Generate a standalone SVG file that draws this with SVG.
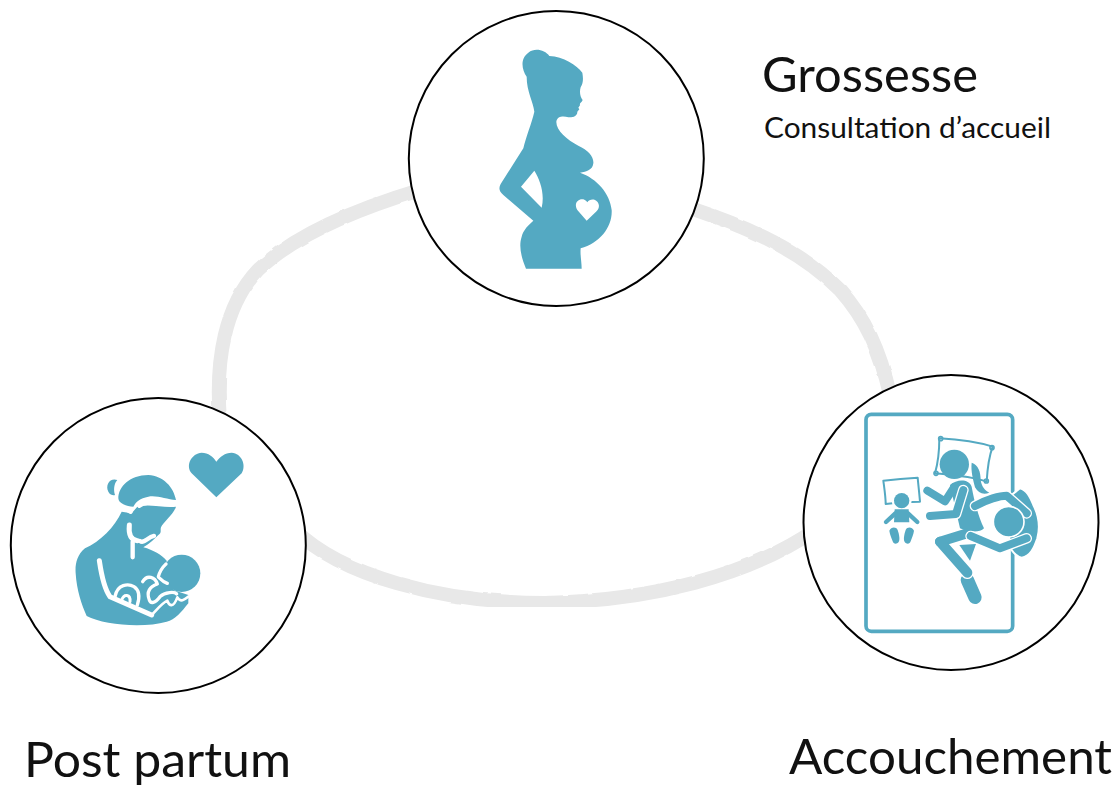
<svg xmlns="http://www.w3.org/2000/svg" width="1118" height="785" viewBox="0 0 1118 785">
<style>
text{font-family:"Lato","Liberation Sans",sans-serif;fill:#111}
.big{font-size:48px}
.small{font-size:28px}
.node{fill:#fff;stroke:#000;stroke-width:2}
.ic{fill:#54a9c2}
.ln{fill:none;stroke:#54a9c2;stroke-linecap:round;stroke-linejoin:round}
.wh{fill:none;stroke:#fff;stroke-linecap:round;stroke-linejoin:round}
.ring{fill:none;stroke:#e8e8e8;stroke-width:14;stroke-linecap:round;stroke-linejoin:round;filter:url(#rough)}
</style>
<defs>
<filter id="rough" x="-5%" y="-5%" width="110%" height="110%">
<feTurbulence type="fractalNoise" baseFrequency="0.06" numOctaves="2" seed="4"/>
<feDisplacementMap in="SourceGraphic" scale="2.5" xChannelSelector="R" yChannelSelector="G"/>
</filter>
</defs>
<rect width="1118" height="785" fill="#fff"/>
<g id="connectors">
<path class="ring" d="M420,190 C370,205 300,230 258,270 C225,305 215,360 220,420"/>
<path class="ring" d="M690,208 C750,228 800,250 840,290 C865,318 880,350 890,395"/>
<path class="ring" d="M295,530 C340,575 440,603 545,603 C650,601 750,575 815,530"/>
</g>
<g id="grossesse">
<circle class="node" cx="556.3" cy="158.5" r="147.5"/>
<g transform="translate(470 30) scale(.33333)">
<path class="ic" fill-rule="evenodd" d="M168,716 C155,685 145,650 155,620 C160,600 175,585 190,572 L100,495 C88,485 85,475 92,462 L160,355 C168,320 185,280 193,245 C190,215 170,185 170,140 C155,120 150,85 175,68 C195,52 225,60 238,78 C280,80 320,105 337,128 C340,145 340,160 332,172 C328,185 330,200 338,210 C335,218 328,218 330,226 L325,233 L328,238 L322,245 C322,258 310,263 295,262 C280,258 262,258 259,275 C258,300 290,330 325,347 C355,360 372,380 370,400 C368,420 350,425 330,428 C380,445 420,490 425,540 C428,590 390,640 332,655 C330,675 335,695 335,716 Z M193,422 L153,470 L215,533 C225,490 210,450 193,422 Z M350,572 L322,540 C310,520 325,505 340,508 C347,510 350,515 352,517 C358,508 372,505 382,515 C392,528 385,540 375,548 Z"/>
</g>
</g>
<g id="accouchement">
<circle class="node" cx="951" cy="522.5" r="147.5"/>
<g transform="translate(850 400) scale(.33333)">
<rect x="48" y="43" width="440" height="651" rx="16" fill="none" stroke="#54a9c2" stroke-width="11"/>
<path class="ln" stroke-width="6" d="M268,115 C320,118 380,125 428,140 C415,175 412,210 410,245 C360,228 310,225 255,220 C265,185 268,150 268,115 Z"/>
<circle class="ln" stroke-width="5" cx="272" cy="116" r="6"/><circle class="ln" stroke-width="5" cx="426" cy="143" r="6"/><circle class="ln" stroke-width="5" cx="258" cy="220" r="6"/><circle class="ln" stroke-width="5" cx="409" cy="243" r="6"/>
<circle class="ic" cx="313" cy="193" r="44"/>
<path class="ic" d="M365,188 C385,195 392,215 392,240 C395,260 405,272 418,278 C400,285 385,280 375,262 C370,240 362,215 365,188 Z"/>
<path class="ic" d="M300,255 C320,238 355,235 365,260 C372,300 385,350 402,385 C390,398 360,398 330,385 Z"/>
<path class="ln" stroke-width="24" d="M232,272 L285,304 L312,262"/>
<path class="wh" stroke-width="32" d="M240,348 L318,342 L340,270"/>
<path class="ln" stroke-width="24" d="M240,348 L318,342 L340,270"/>
<path class="ic" d="M328,435 L378,432 L360,482 Z"/>
<path class="ln" stroke-width="40" d="M352,540 L375,592"/>
<path class="wh" stroke-width="38" d="M352,518 L300,460"/>
<path class="ln" stroke-width="30" d="M270,425 L352,400"/>
<path class="ln" stroke-width="30" d="M270,425 L352,518"/>
<path class="ic" stroke="#fff" stroke-width="6" d="M478,290 L510,265 C530,270 540,290 550,315 C568,350 570,385 562,415 C552,445 540,470 515,473 C495,470 485,450 478,440 Z"/>
<path class="wh" stroke-width="32" d="M375,318 C410,298 450,287 470,287 L530,340"/>
<path class="ln" stroke-width="24" d="M375,318 C410,298 450,287 470,287 L530,340"/>
<circle class="ic" cx="476" cy="365" r="46" stroke="#fff" stroke-width="5"/>
<path class="wh" stroke-width="32" d="M362,408 L450,445 L530,415"/>
<path class="ln" stroke-width="24" d="M362,408 L450,445 L530,415"/>
<path class="ln" stroke-width="6" d="M100,242 C135,238 170,235 203,233 C205,255 208,280 210,305 C175,305 140,308 107,312 C107,290 103,265 100,242 Z"/>
<circle class="wh" stroke-width="8" cx="155" cy="302" r="26"/>
<circle class="ic" cx="155" cy="302" r="23"/>
<path class="ic" d="M134,328 L176,328 L178,367 L132,367 Z"/>
<path class="ln" stroke-width="13" d="M108,366 L136,340 M202,366 L174,340"/>
<path class="ic" d="M118,392 C124,380 138,380 143,390 L146,400 C148,410 150,420 146,426 C140,434 130,432 128,424 C124,412 120,405 118,392 Z"/>
<path class="ic" d="M192,392 C186,380 172,380 167,390 L164,400 C162,410 160,420 164,426 C170,434 180,432 182,424 C186,412 190,405 192,392 Z"/>
</g>
</g>
<g id="postpartum">
<circle class="node" cx="158.3" cy="545.5" r="147.5"/>
<g transform="translate(60 440) scale(.33333)">
<path class="ic" d="M469,172 L395,100 C375,75 395,40 425,38 C445,38 460,50 469,65 C480,50 495,38 515,38 C545,40 560,75 545,100 Z"/>
<path class="ic" d="M172,120 C150,112 135,135 145,155 C150,165 160,167 165,165 C160,150 162,130 172,120 Z"/>
<path class="ic" d="M175,175 C175,140 210,105 265,105 C310,108 340,140 348,180 C320,178 290,165 265,170 C240,175 228,185 220,200 C200,200 175,190 175,175 Z"/>
<path class="ic" d="M185,215 C165,260 120,305 75,325 C50,345 45,375 47,400 C50,450 65,495 80,528 C130,555 250,565 320,545 C345,540 365,515 385,490 L385,465 L340,450 L320,400 L320,362 C305,345 280,330 250,322 C270,310 285,295 295,285 C306,278 300,272 303,262 C310,245 340,225 348,200 C310,205 270,190 232,200 L215,220 Z"/>
<circle class="ic" cx="365" cy="400" r="56"/>
<path class="wh" stroke-width="12" d="M182,198 L212,216 M238,198 C262,178 300,198 345,192"/>
<path class="wh" stroke-width="15" d="M208,255 C205,285 215,300 232,302"/>
<path class="wh" stroke-width="13" d="M218,305 L218,352 M240,303 C252,312 262,292 282,288"/>
<path class="wh" stroke-width="15" d="M118,362 C125,410 135,450 150,470 L275,525"/>
<path class="wh" stroke-width="10" d="M165,470 C172,432 205,430 222,440 C240,452 240,470 232,495"/>
<path class="wh" stroke-width="9" d="M185,480 C192,460 212,462 210,485"/>
<path class="wh" stroke-width="10" d="M248,425 C262,402 285,412 292,432 C270,440 258,455 268,480 C272,492 285,490 300,470 C315,455 345,455 350,462"/>
<path class="wh" stroke-width="10" d="M295,410 C302,385 315,375 318,372 M322,430 C308,425 302,418 296,412"/>
<path class="wh" stroke-width="8" d="M275,525 C290,510 305,490 322,482 C328,498 340,505 352,472 C362,488 372,480 385,470"/>
</g>
</g>
<text class="big" x="762" y="92" textLength="216" lengthAdjust="spacingAndGlyphs">Grossesse</text>
<text class="small" x="764" y="138" textLength="287" lengthAdjust="spacingAndGlyphs">Consultation d’accueil</text>
<text class="big" x="24" y="777" textLength="267" lengthAdjust="spacingAndGlyphs">Post partum</text>
<text class="big" x="789" y="774" textLength="323" lengthAdjust="spacingAndGlyphs">Accouchement</text>
</svg>
